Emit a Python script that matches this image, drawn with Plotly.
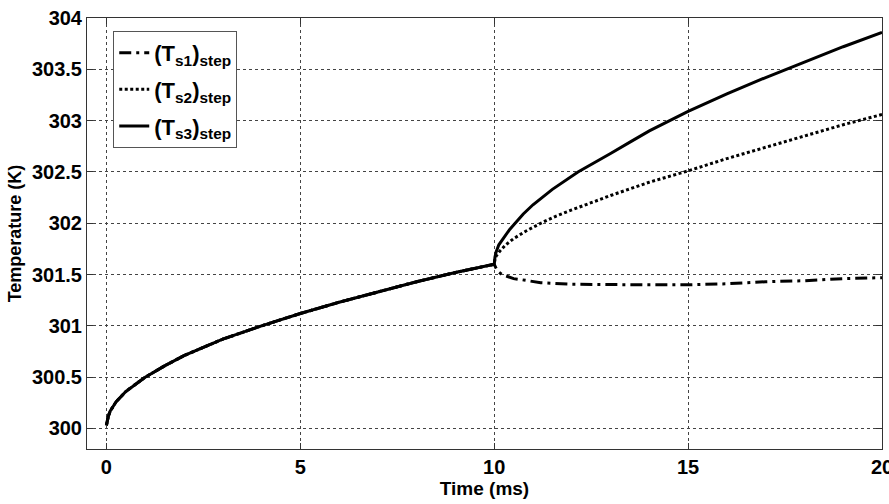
import plotly.graph_objects as go

# Time axis (ms) and surface temperatures (K)
t_pre = [0, 0.05, 0.1, 0.25, 0.5, 0.75, 1, 1.5, 2, 2.5, 3, 4, 5, 6, 7, 8, 9, 10]
T_pre = [300.03, 300.12, 300.17, 300.26, 300.36, 300.43, 300.50, 300.61,
         300.71, 300.79, 300.87, 301.00, 301.12, 301.23, 301.33, 301.43,
         301.52, 301.60]

t_s1 = [10.05, 10.1, 10.2, 10.33, 10.5, 10.7, 11.2, 12, 13, 14, 15, 16,
        17, 18, 19, 20]
T_s1 = [301.56, 301.53, 301.50, 301.48, 301.46, 301.45, 301.42, 301.405,
        301.40, 301.40, 301.40, 301.41, 301.43, 301.44, 301.46, 301.47]

t_s2 = [10.02, 10.05, 10.15, 10.3, 10.5, 10.8, 11.2, 11.6, 12, 12.5, 13,
        14, 15, 16, 17, 18, 19, 20]
T_s2 = [301.65, 301.68, 301.73, 301.79, 301.85, 301.92, 302.00, 302.07,
        302.13, 302.20, 302.27, 302.40, 302.51, 302.63, 302.74, 302.85,
        302.96, 303.06]

t_s3 = [10.02, 10.05, 10.12, 10.25, 10.4, 10.54, 10.75, 11, 11.5, 12.16,
        12.6, 13, 13.5, 14, 15, 16, 17, 17.56, 18, 19, 20]
T_s3 = [301.67, 301.72, 301.79, 301.86, 301.94, 302.00, 302.09, 302.18,
        302.33, 302.50, 302.59, 302.68, 302.79, 302.90, 303.09, 303.26,
        303.42, 303.50, 303.57, 303.72, 303.86]

x_ticks = [0, 5, 10, 15, 20]
y_ticks = [300, 300.5, 301, 301.5, 302, 302.5, 303, 303.5, 304]
y_tick_text = ["300", "300.5", "301", "301.5", "302", "302.5", "303", "303.5", "304"]

names = ["(T<sub>s1</sub>)<sub>step</sub>",
         "(T<sub>s2</sub>)<sub>step</sub>",
         "(T<sub>s3</sub>)<sub>step</sub>"]

FONT = "Liberation Sans"

fig = go.Figure()
fig.add_trace(go.Scatter(x=t_pre + t_s1, y=T_pre + T_s1, mode="lines", name=names[0],
                         legendgroup="a",
                         line=dict(color="black", width=3, dash="12px,5px,3px,5px")))
fig.add_trace(go.Scatter(x=t_pre + t_s2, y=T_pre + T_s2, mode="lines", name=names[1],
                         legendgroup="b",
                         line=dict(color="black", width=3, dash="3px,2.5px")))
fig.add_trace(go.Scatter(x=t_pre + t_s3, y=T_pre + T_s3, mode="lines", name=names[2],
                         legendgroup="c",
                         line=dict(color="black", width=3)))

axis_common = dict(
    showline=True, linecolor="#333333", linewidth=1, mirror="allticks",
    ticks="inside", ticklen=6, tickcolor="#333333",
    showgrid=True, gridcolor="#444444", gridwidth=1, griddash="dot",
    zeroline=False, ticklabeloverflow="allow", automargin=False,
    tickfont=dict(family=FONT, size=20, color="black", weight="bold"),
)

fig.update_xaxes(range=[-0.5, 20], tickvals=x_ticks,
                 title=dict(text="<b>Time (ms)</b>", standoff=3,
                            font=dict(family=FONT, size=19, color="black")),
                 **axis_common)
fig.update_yaxes(range=[299.8, 304], tickvals=y_ticks, ticktext=y_tick_text,
                 title=dict(text="<b>Temperature (K)</b>", standoff=5,
                            font=dict(family=FONT, size=18, color="black")),
                 **axis_common)

fig.update_layout(
    width=889, height=504,
    margin=dict(l=87, r=7, t=18, b=55),
    paper_bgcolor="white", plot_bgcolor="white",
    showlegend=True,
    legend=dict(x=0.033, y=0.97, xanchor="left", yanchor="top",
                bgcolor="white", bordercolor="#555555", borderwidth=1,
                font=dict(family=FONT, size=22, color="black", weight="bold"),
                itemwidth=30, tracegroupgap=5),
)

fig.write_html("out.html")
